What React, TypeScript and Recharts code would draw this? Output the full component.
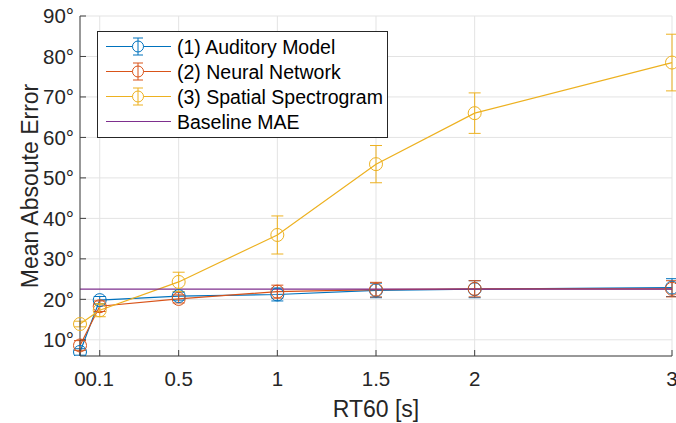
import React from 'react';
import { ComposedChart, Line, XAxis, YAxis, CartesianGrid, ErrorBar, Legend } from 'recharts';

const rt60 = [0, 0.1, 0.5, 1, 1.5, 2, 3];
const auditoryMAE = [7.0, 19.8, 20.8, 21.2, 22.2, 22.5, 22.9];
const auditoryErr = [0.8, 0.9, 1.0, 1.6, 1.8, 2.1, 2.2];
const neuralMAE = [8.6, 18.3, 20.1, 21.9, 22.4, 22.6, 22.6];
const neuralErr = [1.2, 1.3, 1.0, 1.6, 1.8, 2.0, 2.0];
const spatialMAE = [13.9, 17.3, 24.3, 35.9, 53.4, 66.0, 78.5];
const spatialErr = [0.7, 1.6, 2.4, 4.7, 4.6, 5.0, 7.0];
const baselineMAE = 22.5;
const xTicks = [0, 0.1, 0.5, 1, 1.5, 2, 3];
const yTicks = [10, 20, 30, 40, 50, 60, 70, 80, 90];

const seriesNames = ['(1) Auditory Model', '(2) Neural Network', '(3) Spatial Spectrogram', 'Baseline MAE'];
const COLORS = ['#0072BD', '#D95319', '#EDB120', '#7E2F8E'];
const FONT = '"Liberation Sans", Arial, Helvetica, sans-serif';

const data = rt60.map((x, i) => ({
  x,
  a: auditoryMAE[i],
  aErr: auditoryErr[i],
  n: neuralMAE[i],
  nErr: neuralErr[i],
  s: spatialMAE[i],
  sErr: spatialErr[i],
  b: baselineMAE,
}));

const makeDot = (color: string) => (props: any) => (
  <circle
    key={`dot-${color}-${props.index}`}
    cx={props.cx}
    cy={props.cy}
    r={6.5}
    fill="none"
    stroke={color}
    strokeWidth={1}
  />
);

const LegendBox = () => {
  const rowH = 25;
  const y0 = 15.5;
  return (
    <svg width={291} height={107} style={{ display: 'block' }}>
      <rect x={0.5} y={0.5} width={290} height={106} fill="#fff" stroke="#262626" strokeWidth={1} />
      {seriesNames.map((name, i) => {
        const y = y0 + i * rowH;
        const c = COLORS[i];
        return (
          <g key={name}>
            <line x1={9} x2={74} y1={y} y2={y} stroke={c} strokeWidth={1.2} />
            {i < 3 && (
              <g>
                <circle cx={41} cy={y} r={5.5} fill="#fff" stroke={c} strokeWidth={1} />
                <line x1={41} x2={41} y1={y - 8.5} y2={y + 8.5} stroke={c} strokeWidth={1} />
                <line x1={36} x2={46} y1={y - 8.5} y2={y - 8.5} stroke={c} strokeWidth={1} />
                <line x1={36} x2={46} y1={y + 8.5} y2={y + 8.5} stroke={c} strokeWidth={1} />
              </g>
            )}
            <text x={80} y={y} dominantBaseline="central" fontSize={19.5} fontFamily={FONT} fill="#000">
              {name}
            </text>
          </g>
        );
      })}
    </svg>
  );
};

export default function App() {
  return (
    <div style={{ position: 'absolute', left: 0, top: 0, background: '#fff' }}>
      <ComposedChart
        width={676}
        height={423}
        data={data}
        margin={{ top: 16, right: 4, bottom: 0, left: 0 }}
        style={{ fontFamily: FONT }}
      >
        <CartesianGrid stroke="#e3e3e3" strokeWidth={1} />
        <XAxis
          dataKey="x"
          type="number"
          domain={[0, 3]}
          ticks={xTicks}
          interval={0}
          height={67}
          tickSize={-6}
          tickMargin={21}
          stroke="#404040"
          tick={{ fontSize: 20.5, fill: '#262626', fontFamily: FONT }}
          label={{ value: 'RT60 [s]', position: 'insideBottom', offset: 6, fontSize: 23, fill: '#262626', fontFamily: FONT }}
        />
        <YAxis
          type="number"
          domain={[6, 90]}
          ticks={yTicks}
          interval={0}
          allowDataOverflow
          width={80}
          tickSize={-6}
          tickMargin={12}
          stroke="#404040"
          tickFormatter={(v: number) => `${v}°`}
          tick={{ fontSize: 20.5, fill: '#262626', fontFamily: FONT }}
          label={{
            value: 'Mean Absoute Error',
            angle: -90,
            position: 'insideLeft',
            offset: 30,
            fontSize: 23,
            fill: '#262626',
            fontFamily: FONT,
            style: { textAnchor: 'middle' },
          }}
        />
        <Line dataKey="a" stroke={COLORS[0]} strokeWidth={1.2} dot={makeDot(COLORS[0])} activeDot={false} isAnimationActive={false}>
          <ErrorBar dataKey="aErr" width={6} stroke={COLORS[0]} strokeWidth={1} direction="y" isAnimationActive={false} />
        </Line>
        <Line dataKey="n" stroke={COLORS[1]} strokeWidth={1.2} dot={makeDot(COLORS[1])} activeDot={false} isAnimationActive={false}>
          <ErrorBar dataKey="nErr" width={6} stroke={COLORS[1]} strokeWidth={1} direction="y" isAnimationActive={false} />
        </Line>
        <Line dataKey="s" stroke={COLORS[2]} strokeWidth={1.2} dot={makeDot(COLORS[2])} activeDot={false} isAnimationActive={false}>
          <ErrorBar dataKey="sErr" width={6} stroke={COLORS[2]} strokeWidth={1} direction="y" isAnimationActive={false} />
        </Line>
        <Line dataKey="b" stroke={COLORS[3]} strokeWidth={1.2} dot={false} activeDot={false} isAnimationActive={false} />
        <Legend
          layout="horizontal"
          verticalAlign="middle"
          align="center"
          content={() => <LegendBox />}
          wrapperStyle={{ position: 'absolute', left: 97, top: 31, width: 291, height: 107 }}
        />
      </ComposedChart>
    </div>
  );
}
